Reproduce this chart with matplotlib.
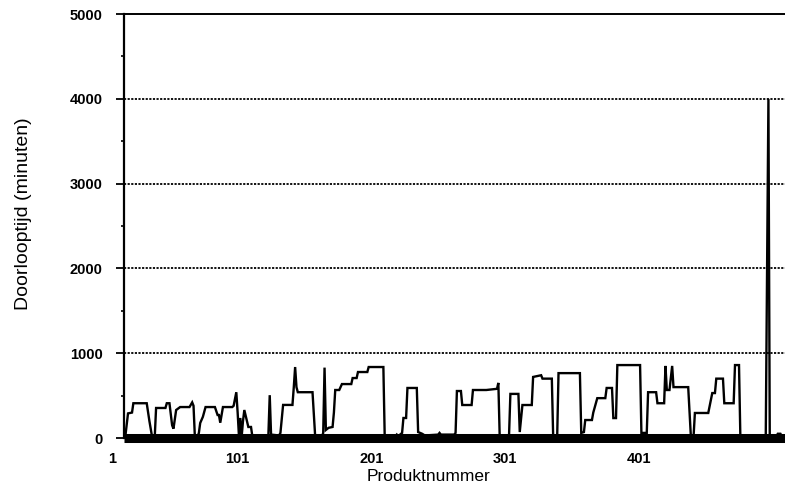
import matplotlib
matplotlib.use("Agg")
import matplotlib.pyplot as plt
from matplotlib.ticker import FixedLocator, MultipleLocator
from matplotlib.transforms import ScaledTranslation

plt.rcParams['font.family'] = ['Liberation Sans', 'DejaVu Sans']

# Lead time per product: vertices of the step-like trace (product number, minutes)
produkt = [
    1, 2, 4, 7, 8, 18, 20, 22,
    24, 25, 32, 33, 35, 37, 38, 40, 43, 50, 52, 53, 54, 56,
    57, 58, 60, 62, 69, 71, 72, 73, 75, 82, 83, 85, 86, 87, 88, 89, 90, 91, 93, 94, 96, 97, 108,
    109, 110, 111, 117,
    118, 120, 127, 128, 129, 130, 131, 142, 144, 149,
    150, 151, 152, 154, 157, 158, 159, 162, 164, 171, 172, 175, 176, 183, 184, 195, 196,
    204, 205, 206, 209, 210, 212, 213, 220, 221, 224, 226,
    236, 237, 238, 248, 249,
    250, 253, 254, 261, 262, 272, 280, 281, 282, 289, 290, 296, 297, 299, 306, 307, 313, 314,
    321, 322, 325,
    326, 342, 343, 345, 346, 351, 352, 355, 361, 362, 366, 367, 369, 370, 387, 388, 392, 393,
    399, 400, 405, 406, 407, 409, 411, 412, 423, 425, 427, 428, 438, 441, 443, 444, 449, 450,
    457, 458, 461, 462, 479,
    481, 483, 484, 489, 490, 492, 493, 496,
]
doorlooptijd = [
    0, 20, 290, 300, 410, 410, 200, 15,
    15, 354, 354, 410, 410, 150, 110, 330, 365, 365, 420, 380, 15, 15,
    60, 177, 250, 365, 365, 271, 271, 180, 365, 365, 380, 540, 300, 15, 236, 15, 200, 330, 200, 130, 130, 20, 20,
    40, 505, 40, 30,
    60, 390, 390, 600, 837, 600, 540, 540, 15, 15,
    60, 830, 95, 120, 130, 300, 566, 566, 636, 636, 707, 707, 778, 778, 837, 837, 15,
    20, 40, 20, 60, 236, 236, 590, 590, 70, 50, 30,
    40, 60, 40, 40, 60,
    554, 554, 389, 389, 566, 566, 580, 650, 20, 35, 520, 520, 70, 389, 389, 720, 740, 700,
    700, 15, 15,
    765, 765, 60, 70, 212, 212, 300, 470, 470, 590, 590, 235, 235, 860, 860, 60, 60, 540,
    540, 410, 410, 850, 566, 566, 850, 600, 600, 15, 15, 295, 295, 530, 530, 700, 700, 410,
    410, 860, 860, 20, 20,
    15, 4000, 15, 20, 50, 50, 20, 20,
]

x_ticks = [1, 101, 201, 301, 401]
y_major = [0, 1000, 2000, 3000, 4000, 5000]
grid_levels = [1000, 2000, 3000, 4000]

fig = plt.figure(figsize=(7.85, 4.88), dpi=100)
ax = fig.add_axes([124 / 785, 1 - 438 / 488, 661 / 785, 424 / 488])

for lvl in grid_levels:
    ax.axhline(lvl, color='black', lw=1.3, ls=(0, (1.2, 0.8)), zorder=1)

ax.plot(produkt, doorlooptijd, color='black', lw=1.7, solid_joinstyle='miter', zorder=3)

ax.set_xlim(1, 495.4)
ax.set_ylim(0, 5000)

ax.spines['right'].set_visible(False)
ax.spines['top'].set_linewidth(1.4)
ax.spines['left'].set_linewidth(1.6)
ax.spines['bottom'].set_linewidth(6.5)
ax.spines['bottom'].set_capstyle('butt')

ax.yaxis.set_major_locator(FixedLocator(y_major))
ax.yaxis.set_minor_locator(MultipleLocator(500))
ax.tick_params(axis='y', which='major', direction='out', length=5.5, width=1.3, pad=10,
               labelsize=10.5)
ax.tick_params(axis='y', which='minor', direction='out', length=2.5, width=1.2)
for lab in ax.get_yticklabels():
    lab.set_fontweight('bold')

ax.xaxis.set_major_locator(FixedLocator(x_ticks))
ax.set_xticklabels([str(t) for t in x_ticks])
ax.tick_params(axis='x', which='both', length=0, pad=10, labelsize=10.5)
shift = ScaledTranslation(-0.08, 0, fig.dpi_scale_trans)
for lab in ax.get_xticklabels():
    lab.set_fontweight('bold')
    lab.set_horizontalalignment('right')
    lab.set_transform(lab.get_transform() + shift)

ax.set_ylabel('Doorlooptijd (minuten)', fontsize=14)
ax.yaxis.set_label_coords(-0.139, 0.53)
ax.set_xlabel('Produktnummer', fontsize=12.5)
ax.xaxis.set_label_coords(0.4614, -0.072)

fig.savefig('out.png', dpi=100)
